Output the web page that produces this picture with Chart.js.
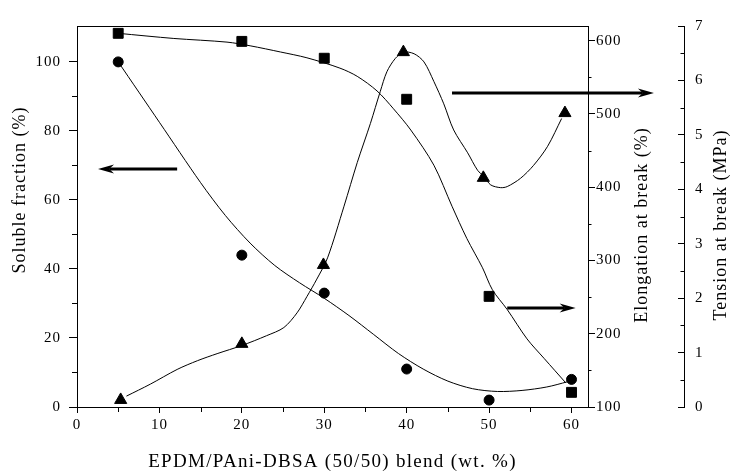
<!DOCTYPE html>
<html>
<head>
<meta charset="utf-8">
<script src="https://cdn.jsdelivr.net/npm/chart.js@4.4.1/dist/chart.umd.min.js"></script>
<style>
  html, body { margin: 0; padding: 0; background: #fff; }
  #wrap { width: 733px; height: 471px; }
</style>
</head>
<body>
<div id="wrap"><canvas id="chart" width="733" height="471"></canvas></div>
<script>
'use strict';

var SERIF = '"Liberation Serif", "Times New Roman", serif';

// measured points
var BLEND = [5, 20, 30, 40, 50, 60];
var SOLUBLE = [100, 44, 33, 11, 2, 8];
var ELONGATION = [610, 599, 576, 520, 251, 120];
var TENSION_X = [5.3, 20, 29.9, 39.6, 49.3, 59.2];
var TENSION = [0.13, 1.16, 2.61, 6.52, 4.21, 5.4];

// fitted curves
var SOLUBLE_FIT_X = [5, 10, 15, 18, 21, 24, 27, 30, 33, 36, 39, 42, 45, 48, 51, 54, 57, 59.5];
var SOLUBLE_FIT = [100, 82.5, 65, 55.5, 47.5, 41, 36, 31.5, 26.5, 21, 15.5, 11, 7.5, 5.3, 4.5, 4.8, 5.8, 7.3];

var ELONGATION_FIT_X = [5, 11.75, 18.2, 21, 24.7, 27.9, 31.9, 34, 36.4, 38.4, 40.5, 43.3, 45.5, 47.3, 49.2, 50.4, 52.2, 54.6, 56.7, 59.3];
var ELONGATION_FIT = [610, 603, 598, 593, 584.5, 576.6, 562.5, 551.3, 531.4, 507, 478, 430, 374, 330, 290, 260, 233, 193, 166, 133];

var TENSION_FIT_X = [6, 8.9, 12.15, 14.6, 17, 20, 23, 25.1, 26.7, 27.9, 29.1, 30.4, 32.4, 34, 35.6, 36.8, 37.6, 38.6, 39.6, 40.9, 42.1, 43.3, 44.5, 45.7, 47.4, 48.6, 49.4, 50.2, 51.4, 52.2, 53.8, 55.4, 57.1, 58.8];
var TENSION_FIT = [0.2, 0.42, 0.69, 0.85, 0.98, 1.13, 1.31, 1.46, 1.73, 2.03, 2.35, 2.74, 3.69, 4.49, 5.21, 5.8, 6.16, 6.4, 6.52, 6.49, 6.34, 5.98, 5.57, 5.09, 4.67, 4.35, 4.23, 4.08, 4.03, 4.05, 4.2, 4.44, 4.79, 5.3];

// arrows: which y axis they point to, at what value, from x to x
var ARROWS = [
  { axis: 'y', y: 69, from: 12.15, to: 2.55 },
  { axis: 'y1', y: 529, from: 45.5, to: 70 },
  { axis: 'y1', y: 235, from: 52.2, to: 60.5 }
];

var X_TITLE = 'EPDM/PAni-DBSA (50/50) blend (wt. %)';
var Y_TITLE = 'Soluble fraction (%)';
var Y1_TITLE = 'Elongation at break (%)';
var Y2_TITLE = 'Tension at break (MPa)';

function toPoints(xs, ys) {
  return xs.map(function (x, i) { return { x: x, y: ys[i] }; });
}

function pointSet(xs, ys, axis, style, radius) {
  return {
    data: toPoints(xs, ys),
    xAxisID: 'x',
    yAxisID: axis,
    pointStyle: style,
    pointRadius: radius,
    pointBackgroundColor: '#000',
    pointBorderColor: '#000',
    pointBorderWidth: 1,
    showLine: false
  };
}

function curveSet(xs, ys, axis) {
  return {
    data: toPoints(xs, ys),
    xAxisID: 'x',
    yAxisID: axis,
    pointRadius: 0,
    showLine: true,
    borderColor: '#000',
    borderWidth: 1,
    tension: 0.3
  };
}

function drawArrow(ctx, x1, y, x2) {
  var dir = x2 > x1 ? 1 : -1;
  var head = 16, half = 4.5;
  ctx.lineWidth = 3;
  ctx.beginPath();
  ctx.moveTo(x1, y);
  ctx.lineTo(x2 - dir * head * 0.7, y);
  ctx.stroke();
  ctx.beginPath();
  ctx.moveTo(x2, y);
  ctx.lineTo(x2 - dir * head, y - half);
  ctx.lineTo(x2 - dir * head * 0.7, y);
  ctx.lineTo(x2 - dir * head, y + half);
  ctx.closePath();
  ctx.fill();
}

function vText(ctx, text, x, y) {
  ctx.save();
  ctx.translate(x, y);
  ctx.rotate(-Math.PI / 2);
  ctx.fillText(text, 0, 0);
  ctx.restore();
}

var decorations = {
  id: 'decorations',
  beforeDraw: function (chart) {
    chart.ctx.letterSpacing = '1px';
  },
  afterDraw: function (chart) {
    var ctx = chart.ctx;
    var s = chart.scales;
    var v, p;
    ctx.save();
    ctx.strokeStyle = '#000';
    ctx.fillStyle = '#000';
    ctx.lineWidth = 1;

    // minor ticks
    ctx.beginPath();
    for (v = 5; v < 60; v += 10) {
      p = Math.round(s.x.getPixelForValue(v)) + 0.5;
      ctx.moveTo(p, s.x.top); ctx.lineTo(p, s.x.top + 5);
    }
    for (v = 10; v < 110; v += 20) {
      p = Math.round(s.y.getPixelForValue(v)) + 0.5;
      ctx.moveTo(s.y.right, p); ctx.lineTo(s.y.right - 5, p);
    }
    for (v = 150; v < 620; v += 100) {
      p = Math.round(s.y1.getPixelForValue(v)) + 0.5;
      ctx.moveTo(s.y1.left, p); ctx.lineTo(s.y1.left + 3.5, p);
    }
    for (v = 0.5; v < 7; v += 1) {
      p = Math.round(s.y2.getPixelForValue(v)) + 0.5;
      ctx.moveTo(s.y2.left, p); ctx.lineTo(s.y2.left - 3.5, p);
    }
    ctx.stroke();

    // arrows
    ARROWS.forEach(function (a) {
      var y = Math.round(s[a.axis].getPixelForValue(a.y));
      drawArrow(ctx, s.x.getPixelForValue(a.from), y, s.x.getPixelForValue(a.to));
    });

    // axis titles
    ctx.textAlign = 'center';
    ctx.textBaseline = 'middle';
    ctx.letterSpacing = '1.3px';
    ctx.font = '19px ' + SERIF;
    ctx.fillText(X_TITLE, (chart.chartArea.left + chart.chartArea.right) / 2, 462);
    ctx.letterSpacing = '1px';
    ctx.font = '18px ' + SERIF;
    vText(ctx, Y_TITLE, 20, 190);
    vText(ctx, Y1_TITLE, 642, 225);
    vText(ctx, Y2_TITLE, 721, 225);
    ctx.restore();
  }
};

var tickFont = { family: SERIF, size: 15 };

new Chart(document.getElementById('chart'), {
  type: 'scatter',
  data: {
    datasets: [
      curveSet(SOLUBLE_FIT_X, SOLUBLE_FIT, 'y'),
      curveSet(ELONGATION_FIT_X, ELONGATION_FIT, 'y1'),
      curveSet(TENSION_FIT_X, TENSION_FIT, 'y2'),
      pointSet(BLEND, SOLUBLE, 'y', 'circle', 5),
      pointSet(BLEND, ELONGATION, 'y1', 'rect', 7),
      pointSet(TENSION_X, TENSION, 'y2', 'triangle', 7)
    ]
  },
  options: {
    responsive: false,
    animation: false,
    devicePixelRatio: 1,
    layout: { padding: 0 },
    plugins: { legend: { display: false }, tooltip: { enabled: false } },
    scales: {
      x: {
        type: 'linear', position: 'bottom', min: 0, max: 62,
        ticks: { stepSize: 10, includeBounds: false, color: '#000', font: tickFont, padding: 3, maxRotation: 0 },
        grid: { drawOnChartArea: false, tickLength: 6, color: '#000' },
        border: { color: '#000', width: 1 },
        afterFit: function (scale) { scale.height = 64; }
      },
      x2: {
        type: 'linear', position: 'top', min: 0, max: 62,
        ticks: { display: false },
        grid: { display: false },
        border: { color: '#000', width: 1 },
        afterFit: function (scale) { scale.height = 15; }
      },
      y: {
        type: 'linear', position: 'left', min: 0, max: 110.4,
        ticks: { stepSize: 20, includeBounds: false, color: '#000', font: tickFont, padding: 8 },
        grid: { drawOnChartArea: false, tickLength: 8, color: '#000' },
        border: { color: '#000', width: 1 },
        afterFit: function (scale) { scale.width = 77; }
      },
      y1: {
        type: 'linear', position: 'right', min: 100, max: 620,
        ticks: { stepSize: 100, includeBounds: false, color: '#000', font: tickFont, padding: 1 },
        grid: { drawOnChartArea: false, tickLength: 7, color: '#000' },
        border: { color: '#000', width: 1 },
        afterFit: function (scale) { scale.width = 96; }
      },
      y2: {
        type: 'linear', position: 'right', min: 0, max: 7,
        ticks: { stepSize: 1, includeBounds: false, color: '#000', font: tickFont, padding: 17 },
        grid: { drawOnChartArea: false, tickLength: -6, color: '#000' },
        border: { color: '#000', width: 1 },
        afterFit: function (scale) { scale.width = 49; }
      }
    }
  },
  plugins: [decorations]
});
</script>
</body>
</html>
